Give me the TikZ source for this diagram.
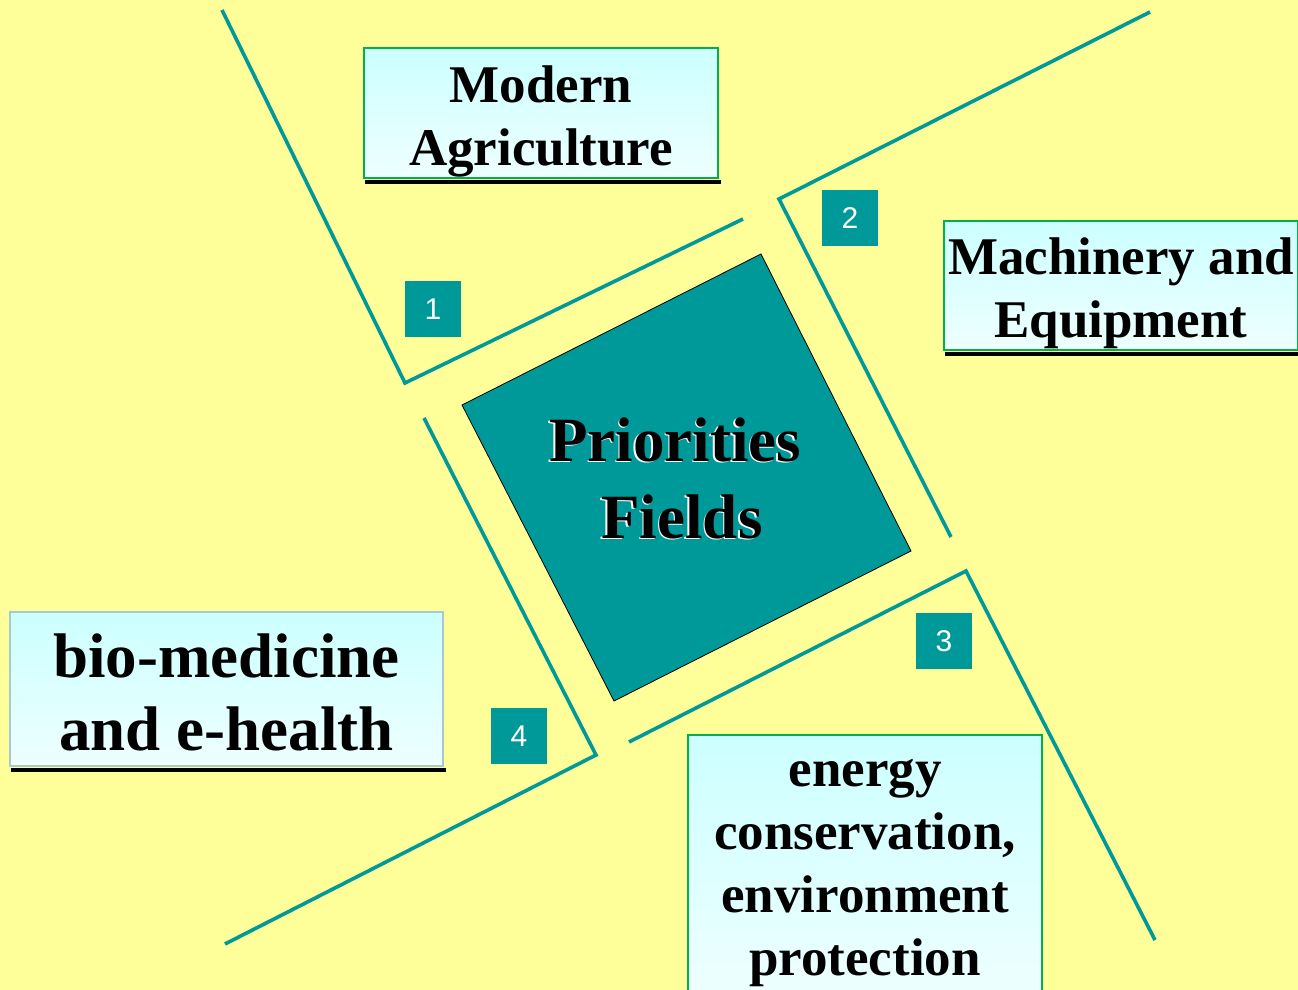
\documentclass[tikz,border=0pt]{standalone}
\usepackage{fontspec}
\setmainfont{Liberation Serif}
\setsansfont{Liberation Sans}
\definecolor{bgyellow}{HTML}{FFFF99}
\definecolor{tealfill}{HTML}{009999}
\definecolor{boxtop}{HTML}{CCFFFF}
\definecolor{boxbottom}{HTML}{EEFFFF}
\definecolor{boxedge}{HTML}{00B050}
\definecolor{bioedge}{HTML}{A8C8D8}
\tikzset{
  rule/.style={draw=tealfill, line width=1.8pt},
  core/.style={fill=tealfill, draw=black, line width=0.4pt},
  tag/.style={fill=tealfill, text=white, minimum size=28pt, inner sep=0pt,
    font=\sffamily\fontsize{15}{15}\selectfont},
  field/.style={draw=boxedge, line width=0.6pt, top color=boxtop, bottom color=boxbottom,
    inner sep=0pt},
  fieldtext/.style={align=center, inner sep=0pt, font=\bfseries\fontsize{26.5}{31.5}\selectfont},
  shadowline/.style={draw=black, line width=2pt},
  coretext/.style={align=center, inner sep=0pt, font=\bfseries\fontsize{31.5}{38.5}\selectfont}
}
\begin{document}
\begin{tikzpicture}[x=0.5pt, y=-0.5pt]
  \fill[bgyellow] (0,0) rectangle (1298,990);
  \useasboundingbox (0,0) rectangle (1298,990);
  % corners of the four brackets
  \coordinate (a1) at (222,10);
  \coordinate (b1) at (405,383);
  \coordinate (c1) at (743,219);
  \coordinate (a2) at (1150,12);
  \coordinate (b2) at (779,199);
  \coordinate (c2) at (951,537);
  \coordinate (a3) at (629,742);
  \coordinate (b3) at (966,571);
  \coordinate (c3) at (1155,940);
  \coordinate (a4) at (424,418);
  \coordinate (b4) at (596,755);
  \coordinate (c4) at (225,944);
  \foreach \i in {1,2,3,4}
    \draw[rule] (a\i) -- (b\i) -- (c\i);
  % central square
  \coordinate (s1) at (462,405);
  \coordinate (s2) at (761,254);
  \coordinate (s3) at (911,551);
  \coordinate (s4) at (614,701);
  \draw[core] (s1) -- (s2) -- (s3) -- (s4) -- cycle;
  \node[coretext, white] (coreshade) at (673.5,479.5) {Priorities\\\hspace*{7pt}Fields};
  \node[coretext] (coretitle) at (675,478) {Priorities\\\hspace*{7pt}Fields};
  % numbered tags
  \foreach \n/\x/\y in {1/433/309, 2/850/218, 3/944/641, 4/519/736}
    \node[tag] (tag\n) at (\x,\y) {\n};
  % field boxes
  \node[field, minimum width=177pt, minimum height=65pt] (agri) at (541,113) {};
  \node[field, minimum width=177pt, minimum height=64.5pt] (mach) at (1121,285.5) {};
  \node[field, draw=bioedge, minimum width=216.5pt, minimum height=77pt] (bio) at (226.5,689) {};
  \node[field, minimum width=177pt, minimum height=131pt] (energy) at (865,866) {};
  \foreach \b in {agri,mach,bio}
    \draw[shadowline] ([shift={(2,3)}]\b.south west) -- ([shift={(2,3)}]\b.south east);
  \node[fieldtext, yshift=-4pt] (agritext) at (agri.center) {Modern\\Agriculture};
  \node[fieldtext, yshift=-4pt] (machtext) at (mach.center) {Machinery and\\Equipment};
  \node[fieldtext, yshift=-1.5pt, font=\bfseries\fontsize{31.5}{36.5}\selectfont]
    (biotext) at (bio.center) {bio-medicine\\and e-health};
  \node[fieldtext, yshift=-3.5pt] (energytext) at (energy.center)
    {energy\\conservation,\\environment\\protection};
\end{tikzpicture}
\end{document}
